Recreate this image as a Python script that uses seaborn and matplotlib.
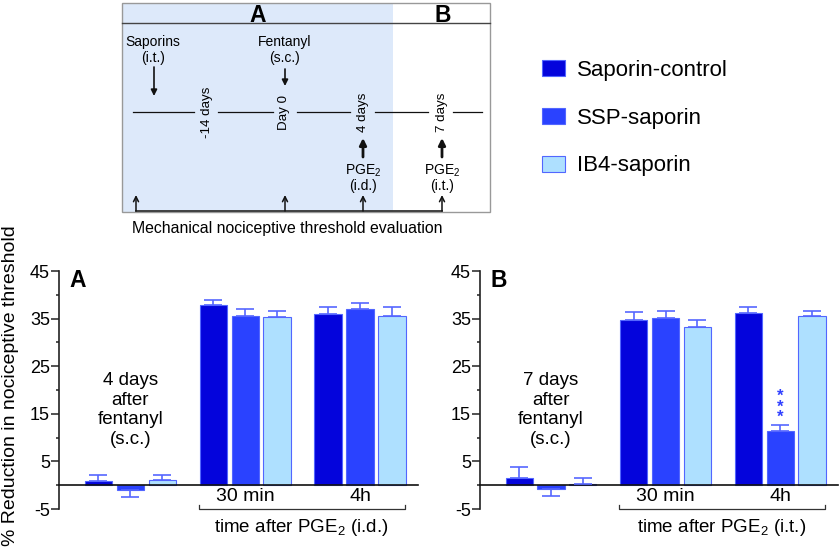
import numpy as np
import pandas as pd
import matplotlib
matplotlib.use("Agg")
import matplotlib.pyplot as plt
import seaborn as sns
from matplotlib.patches import Rectangle

# ---------------- data ----------------
groups = ["Saporin-control", "SSP-saporin", "IB4-saporin"]
timepoints = ["after fentanyl", "30 min", "4h"]
tick_labels = ["", "30 min", "4h"]
colors = ["#0404dc", "#2a42ff", "#aee0ff"]

# Panel A: 4 days after fentanyl, PGE2 i.d.
a_ctrl = [0.85, 37.95, 35.9]
a_ssp = [-1.1, 35.45, 37.05]
a_ib4 = [1.0, 35.3, 35.65]
a_ctrl_sem = [1.35, 1.05, 1.6]
a_ssp_sem = [1.4, 1.55, 1.15]
a_ib4_sem = [1.2, 1.3, 1.85]

# Panel B: 7 days after fentanyl, PGE2 i.t.
b_ctrl = [1.6, 34.8, 36.1]
b_ssp = [-0.7, 35.2, 11.4]
b_ib4 = [0.2, 33.3, 35.5]
b_ctrl_sem = [2.3, 1.5, 1.3]
b_ssp_sem = [1.5, 1.4, 1.3]
b_ib4_sem = [1.3, 1.45, 1.0]

W, H = 839, 547
plt.rcParams["font.family"] = ["Liberation Sans", "DejaVu Sans"]
plt.rcParams["mathtext.fontset"] = "custom"
plt.rcParams["mathtext.rm"] = "Liberation Sans"
plt.rcParams["mathtext.default"] = "regular"
plt.rcParams["axes.unicode_minus"] = False

fig = plt.figure(figsize=(W / 100, H / 100), dpi=100)

def fx(px):
    return px / W

def fy(py):
    return 1 - py / H

ERRC = "#5667ff"
EDGE = "#5266ff"


def make_df(ctrl, ssp, ib4, ctrl_s, ssp_s, ib4_s):
    rows = []
    for g, vals, sems in zip(groups, [ctrl, ssp, ib4], [ctrl_s, ssp_s, ib4_s]):
        for t, v, s in zip(timepoints, vals, sems):
            rows.append({"time": t, "group": g, "value": v, "sem": s})
    return pd.DataFrame(rows)


def panel(rect, df, letter, note, xlabel, stars=None):
    ax = fig.add_axes(rect)
    sns.barplot(data=df, x="time", y="value", hue="group", order=timepoints,
                hue_order=groups, palette=colors, width=0.835, gap=0.15,
                errorbar=None, edgecolor=EDGE, linewidth=0.8, ax=ax,
                legend=True, saturation=1)
    handles, labels = ax.get_legend_handles_labels()
    if ax.get_legend() is not None:
        ax.get_legend().remove()
    for cont, g in zip(ax.containers, groups):
        sub = df[df.group == g].set_index("time").loc[timepoints]
        for bar, m, s in zip(cont, sub["value"], sub["sem"]):
            x = bar.get_x() + bar.get_width() / 2
            yerr = [[0], [s]] if m >= 0 else [[s], [0]]
            ax.errorbar([x], [m], yerr=yerr, fmt="none", ecolor=ERRC,
                        elinewidth=1.2, capsize=6.5, capthick=1.2, zorder=3)
    ax.set_ylim(-5, 45)
    ax.set_xlim(-0.62, 2.505)
    ax.set_yticks([-5, 5, 15, 25, 35, 45])
    ax.set_yticks([0, 10, 20, 30, 40], minor=True)
    ax.set_xticks(range(len(timepoints)))
    ax.set_xticklabels(tick_labels)
    ax.tick_params(axis="y", which="major", length=5.5, width=1.1, color="#222222",
                   labelsize=13, pad=1)
    ax.tick_params(axis="y", which="minor", length=2.5, width=1.1, color="#222222")
    ax.tick_params(axis="x", length=0, labelsize=14, pad=2)
    ax.set_xlabel("")
    ax.set_ylabel("")
    for sp in ["top", "right"]:
        ax.spines[sp].set_visible(False)
    ax.spines["bottom"].set_position(("data", 0))
    ax.spines["bottom"].set_linewidth(1.2)
    ax.spines["left"].set_linewidth(1.2)
    ax.spines["left"].set_color("#222222")
    ax.spines["bottom"].set_color("#111111")
    ax.patch.set_alpha(0)
    ax.text(0.028, 1.01, letter, transform=ax.transAxes, ha="left", va="top",
            fontsize=16.5, fontweight="bold")
    ax.text(0, 15.8, note, ha="center", va="center", fontsize=13.5, linespacing=1.22)
    # bracket
    x0, x1 = 0.595, 2.39
    ax.plot([x0, x0, x1, x1], [-4.2, -5, -5, -4.2], color="#333333", lw=0.9,
            clip_on=False)
    ax.text((x0 + x1) / 2, -8.8, xlabel, ha="center", va="center", fontsize=13.5)
    if stars is not None:
        ci, gi = stars
        bar = ax.containers[gi][ci]
        sub = df[df.group == groups[gi]].set_index("time").loc[timepoints]
        top = sub["value"].iloc[ci] + sub["sem"].iloc[ci]
        xc = bar.get_x() + bar.get_width() / 2
        ax.text(xc, top - 0.1, "*\n*\n*", ha="center", va="bottom",
                fontsize=12, color="#3040ff", fontweight="bold", linespacing=0.66)
    return ax, handles, labels


dfa = make_df(a_ctrl, a_ssp, a_ib4, a_ctrl_sem, a_ssp_sem, a_ib4_sem)
dfb = make_df(b_ctrl, b_ssp, b_ib4, b_ctrl_sem, b_ssp_sem, b_ib4_sem)

axA, handles, labels = panel([fx(59), fy(509), fx(418 - 59), (509 - 271) / H], dfa, "A",
                             "4 days\nafter\nfentanyl\n(s.c.)", "time after PGE$_2$ (i.d.)")
axB, _, _ = panel([fx(480), fy(509), fx(838 - 480), (509 - 271) / H], dfb, "B",
                  "7 days\nafter\nfentanyl\n(s.c.)", "time after PGE$_2$ (i.t.)",
                  stars=(2, 1))

fig.text(fx(11), fy(386), "% Reduction in nociceptive threshold", rotation=90,
         ha="center", va="center", fontsize=14)

fig.legend(handles, labels, loc="upper left", bbox_to_anchor=(fx(542), fy(60)),
           frameon=False, fontsize=16, handlelength=1.04, handleheight=0.74,
           labelspacing=1.2, handletextpad=0.55, borderpad=0, borderaxespad=0)

# ---------------- schematic ----------------
ov = fig.add_axes([0, 0, 1, 1], zorder=-1)
ov.set_xlim(0, W)
ov.set_ylim(H, 0)
ov.axis("off")
ov.add_patch(Rectangle((122, 3), 393 - 122, 212 - 3, facecolor="#dde9fa",
                       edgecolor="none"))
ov.add_patch(Rectangle((122, 3), 490 - 122, 212 - 3, facecolor="none",
                       edgecolor="#999999", lw=1))
ov.plot([122, 490], [23, 23], color="#444444", lw=1)
ov.text(258, 15, "A", ha="center", va="center", fontsize=16.5, fontweight="bold")
ov.text(443, 15, "B", ha="center", va="center", fontsize=16.5, fontweight="bold")

for a, b in [(133, 194), (218, 273), (297, 350), (375, 428), (453, 482)]:
    ov.plot([a, b], [112, 112], color="#111111", lw=0.9)
for x, t in [(207, "-14 days"), (284, "Day 0"), (363, "4 days"), (442, "7 days")]:
    ov.text(x, 112, t, rotation=90, ha="center", va="center", fontsize=9.6)

ov.text(153, 42, "Saporins", ha="center", va="center", fontsize=10)
ov.text(153, 58, "(i.t.)", ha="center", va="center", fontsize=10)
ov.text(285, 42, "Fentanyl", ha="center", va="center", fontsize=10)
ov.text(285, 58, "(s.c.)", ha="center", va="center", fontsize=10)
ov.annotate("", xy=(154, 96), xytext=(154, 67),
            arrowprops=dict(arrowstyle="-|>", color="#111111", lw=1.2,
                            mutation_scale=9, shrinkA=0, shrinkB=0))
ov.annotate("", xy=(285, 86), xytext=(285, 69),
            arrowprops=dict(arrowstyle="-|>", color="#111111", lw=1.2,
                            mutation_scale=9, shrinkA=0, shrinkB=0))
for x, route in [(363, "(i.d.)"), (442, "(i.t.)")]:
    ov.annotate("", xy=(x, 138), xytext=(x, 157),
                arrowprops=dict(arrowstyle="-|>", color="#111111", lw=2,
                                mutation_scale=10, shrinkA=0, shrinkB=0))
    ov.text(x, 171, "PGE$_2$", ha="center", va="center", fontsize=10)
    ov.text(x, 186, route, ha="center", va="center", fontsize=10)
for x in [136, 285, 363, 442]:
    ov.annotate("", xy=(x, 195), xytext=(x, 211),
                arrowprops=dict(arrowstyle="->", color="#111111", lw=1.1,
                                mutation_scale=9, shrinkA=0, shrinkB=0))
ov.plot([136, 442], [211, 211], color="#333333", lw=1.3)
ov.text(287, 228, "Mechanical nociceptive threshold evaluation", ha="center",
        va="center", fontsize=11.4)

fig.savefig("out.png", dpi=100)
